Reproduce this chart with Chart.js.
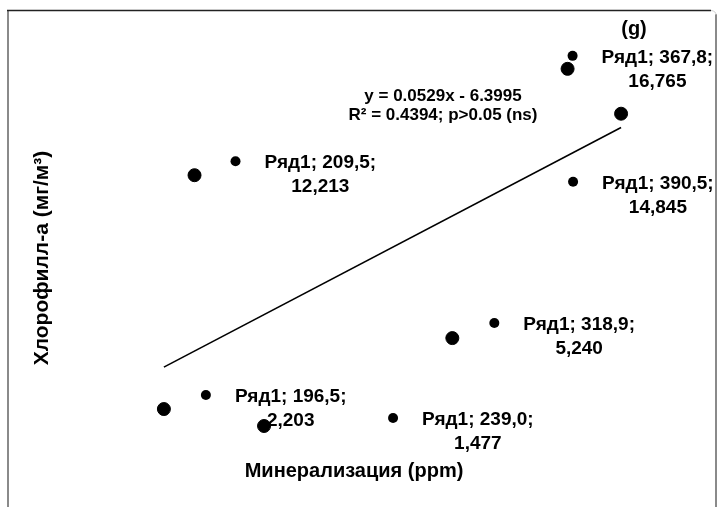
<!DOCTYPE html>
<html>
<head>
<meta charset="utf-8">
<script src="https://cdn.jsdelivr.net/npm/chart.js@4"></script>
<style>
html,body{margin:0;padding:0;background:#fff;}
#wrap{width:717px;height:507px;position:relative;}
</style>
</head>
<body>
<div id="wrap"><canvas id="c" width="717" height="507"></canvas></div>
<script>
// Data
const seriesName = "Ряд1";
const mineralization = [196.5, 209.5, 239.0, 318.9, 367.8, 390.5];
const chlorophyll = [2.203, 12.213, 1.477, 5.240, 16.765, 14.845];
const xLabelText = ["196,5", "209,5", "239,0", "318,9", "367,8", "390,5"];
const yLabelText = ["2,203", "12,213", "1,477", "5,240", "16,765", "14,845"];
const trendX = [196.5, 390.5];
const trendY = [3.996, 14.258];
const equationLines = ["y = 0.0529x - 6.3995", "R² = 0.4394; p>0.05 (ns)"];
const xTitle = "Минерализация (ppm)";
const yTitle = "Хлорофилл-а (мг/м³)";
const panelTitle = "(g)";

// label offsets (pixels) from each point to its small marker dot
const labelOffsets = [[42,-14],[41,-14],[129,-8],[42,-15],[5,-13],[-48,68]];

const FONT = '"Liberation Sans", Arial, sans-serif';

const decor = {
  id: 'decor',
  afterDraw(chart) {
    const ctx = chart.ctx;
    const xs = chart.scales.x, ys = chart.scales.y;
    ctx.save();
    // frame
    ctx.lineWidth = 2;
    ctx.strokeStyle = '#8a8a8a';
    ctx.beginPath(); ctx.moveTo(8, 10); ctx.lineTo(8, 507); ctx.stroke();
    ctx.beginPath(); ctx.moveTo(716, 14); ctx.lineTo(716, 507); ctx.stroke();
    ctx.strokeStyle = '#222';
    ctx.lineWidth = 1.5;
    ctx.beginPath(); ctx.moveTo(7, 10.5); ctx.lineTo(711, 10.5); ctx.stroke();
    ctx.strokeStyle = '#cfcfcf';
    ctx.lineWidth = 1;
    ctx.beginPath(); ctx.moveTo(711, 10.5); ctx.quadraticCurveTo(716, 11, 716, 15); ctx.stroke();

    // data labels
    ctx.fillStyle = '#000';
    ctx.textAlign = 'center';
    ctx.textBaseline = 'middle';
    ctx.font = 'bold 19px ' + FONT;
    for (let i = 0; i < mineralization.length; i++) {
      const px = xs.getPixelForValue(mineralization[i]);
      const py = ys.getPixelForValue(chlorophyll[i]);
      const dx = px + labelOffsets[i][0], dy = py + labelOffsets[i][1];
      ctx.beginPath(); ctx.arc(dx, dy, 5, 0, Math.PI * 2); ctx.fill();
      const line1 = seriesName + '; ' + xLabelText[i] + ';';
      const w = ctx.measureText(line1).width;
      const cx = dx + 29 + w / 2;
      ctx.fillText(line1, cx, dy + 2);
      ctx.fillText(yLabelText[i], cx, dy + 26);
    }

    // equation
    ctx.font = 'bold 17px ' + FONT;
    ctx.fillText(equationLines[0], 443, 96);
    ctx.fillText(equationLines[1], 443, 115);

    // titles
    ctx.font = 'bold 20px ' + FONT;
    ctx.fillText(xTitle, 354, 471);
    ctx.fillText(panelTitle, 634, 29);
    ctx.font = 'bold 21px ' + FONT;
    ctx.translate(42, 258);
    ctx.rotate(-Math.PI / 2);
    ctx.fillText(yTitle, 0, 0);
    ctx.restore();
  }
};

new Chart(document.getElementById('c'), {
  type: 'scatter',
  data: {
    datasets: [
      {
        label: seriesName,
        data: mineralization.map((x, i) => ({x: x, y: chlorophyll[i]})),
        backgroundColor: '#000',
        borderColor: '#000',
        pointRadius: 6.5,
        pointHoverRadius: 6.5
      },
      {
        label: 'trend',
        type: 'line',
        data: trendX.map((x, i) => ({x: x, y: trendY[i]})),
        borderColor: '#000',
        borderWidth: 1.6,
        pointRadius: 0,
        fill: false
      }
    ]
  },
  options: {
    responsive: false,
    animation: false,
    clip: false,
    layout: { padding: { left: 125, top: 40, right: 26.4, bottom: 46.5 } },
    plugins: { legend: { display: false }, tooltip: { enabled: false }, title: { display: false } },
    scales: {
      x: { type: 'linear', min: 180, max: 420, display: false },
      y: { type: 'linear', min: 0, max: 18, display: false }
    }
  },
  plugins: [decor]
});
</script>
</body>
</html>
